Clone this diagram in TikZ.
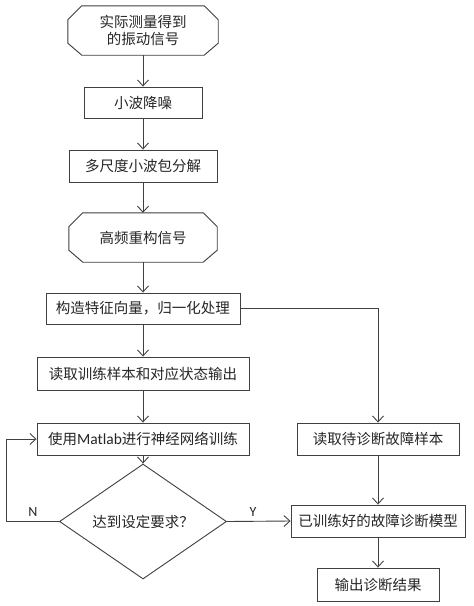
\documentclass[tikz,border=0pt]{standalone}
\usepackage{fontspec}
\setmainfont{Noto Sans CJK SC}
\newfontfamily\latf{Carlito}
\usetikzlibrary{arrows.meta,shapes.geometric,calc}
\begin{document}
\begin{tikzpicture}[x=1pt,y=-1pt,
  every node/.style={font=\fontsize{14.5pt}{17pt}\selectfont, text=black!85, inner sep=0pt},
  box/.style={draw=black!75, line width=0.9pt, rectangle},
  plainhex/.style={rectangle},
  dia/.style={draw=black!75, line width=0.9pt, diamond},
  lbl/.style={font=\latf\fontsize{14pt}{16pt}\selectfont},
  arr/.style={draw=black!75, line width=0.9pt, -{Straight Barb[length=6pt,width=11pt]}}]
\useasboundingbox (0,0) rectangle (474,606);
\fill[white] (0,0) rectangle (474,606);
% top chamfered shape
\node[plainhex, minimum width=150pt, minimum height=49pt, align=center] (start) at (143,30.5) {实际测量得到\\的振动信号};
\draw[draw=black!75, line width=0.9pt]
  ($(start.north west)+(14,0)$) -- ($(start.north east)+(-14,0)$) -- ($(start.north east)+(0,14)$)
  -- ($(start.south east)+(0,-12)$) -- ($(start.south east)+(-14,0)$) -- ($(start.south west)+(14,0)$)
  -- ($(start.south west)+(0,-12)$) -- ($(start.north west)+(0,14)$) -- cycle;
\node[box, minimum width=118pt, minimum height=31pt] (den) at (143,102.5) {小波降噪};
\node[box, minimum width=148pt, minimum height=32pt] (dec) at (143,166) {多尺度小波包分解};
\node[plainhex, minimum width=148pt, minimum height=49pt] (rec) at (143,237.5) {高频重构信号};
\draw[draw=black!75, line width=0.9pt]
  ($(rec.north west)+(14,0)$) -- ($(rec.north east)+(-14,0)$) -- ($(rec.north east)+(0,14)$)
  -- ($(rec.south east)+(0,-12)$) -- ($(rec.south east)+(-14,0)$) -- ($(rec.south west)+(14,0)$)
  -- ($(rec.south west)+(0,-12)$) -- ($(rec.north west)+(0,14)$) -- cycle;
\node[box, minimum width=194pt, minimum height=31pt] (feat) at (143,308.5) {构造特征向量，归一化处理};
\node[box, minimum width=212pt, minimum height=33pt] (train) at (143,373.5) {读取训练样本和对应状态输出};
\node[box, minimum width=212pt, minimum height=32pt] (mat) at (143,439) {使用{\latf\fontsize{15.5pt}{17pt}\selectfont Matlab}进行神经网络训练};
\node[dia, minimum width=167pt, minimum height=71pt] (chk) at (143,521.5) {达到设定要求？};
\node[box, minimum width=162pt, minimum height=32pt] (rd) at (378,439) {读取待诊断故障样本};
\node[box, minimum width=174pt, minimum height=32pt] (mod) at (378,521) {已训练好的故障诊断模型};
\node[box, minimum width=122pt, minimum height=33pt] (out) at (378,584.5) {输出诊断结果};
\coordinate (nl) at (6,521.5);
\node[lbl] (n) at (33,512) {N};
\node[lbl] (y) at (253,512) {Y};
\draw[arr] (start.south) -- (den.north);
\draw[arr] (den.south) -- (dec.north);
\draw[arr] (dec.south) -- (rec.north);
\draw[arr] (rec.south) -- (feat.north);
\draw[arr] (feat.south) -- (train.north);
\draw[arr] (train.south) -- (mat.north);
\draw[arr] (mat.south) -- (chk.north);
\draw[arr] (feat.east) -| (rd.north);
\draw[arr] (rd.south) -- (mod.north);
\draw[arr] (mod.south) -- (out.north);
\draw[arr] (chk.east) -- (mod.west);
\draw[arr] (chk.west) -- (nl) |- (mat.west);
\end{tikzpicture}
\end{document}
